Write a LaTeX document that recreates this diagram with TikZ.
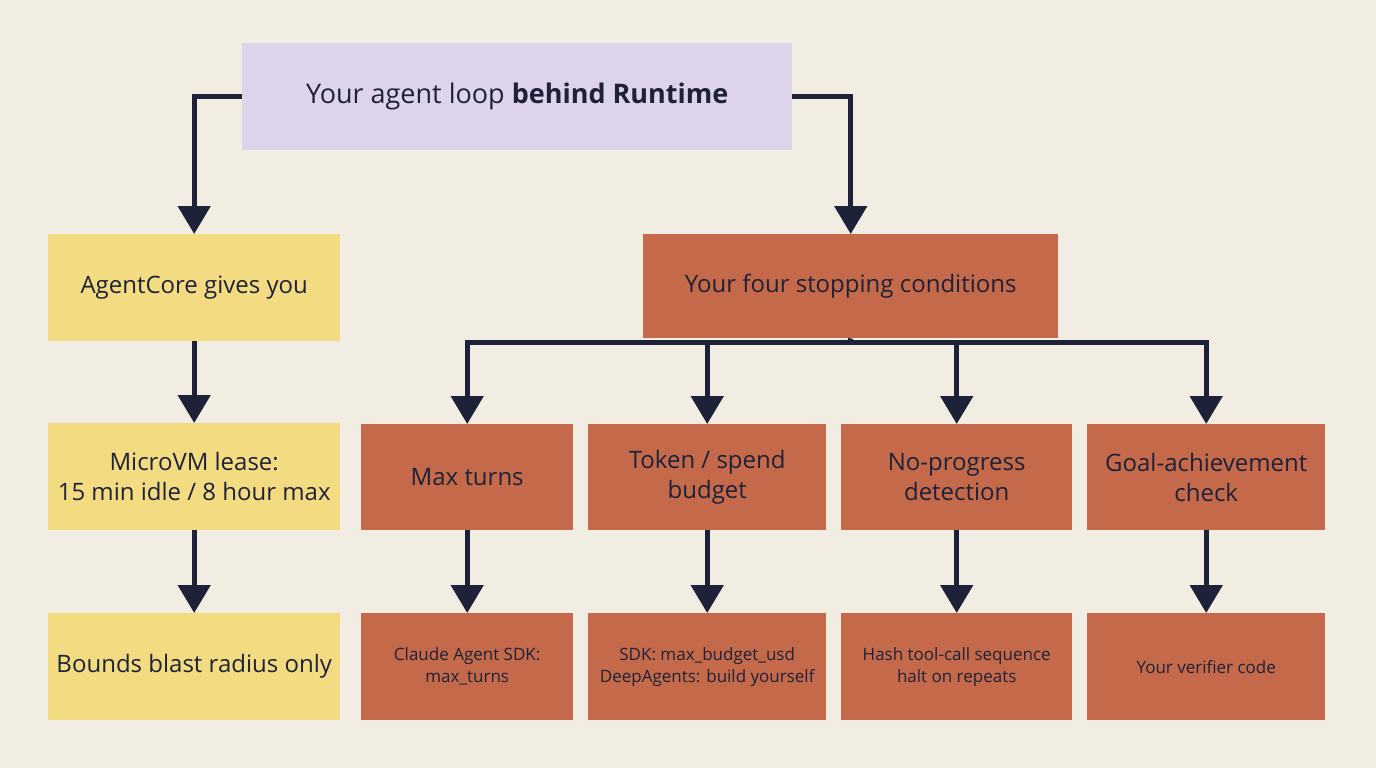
\documentclass[tikz,border=0pt]{standalone}
\usepackage{fontspec}
\setmainfont{Open Sans}
\usetikzlibrary{arrows.meta}
\definecolor{bg}{HTML}{F1EDE2}
\definecolor{pur}{HTML}{DDD3EA}
\definecolor{yel}{HTML}{F3DB82}
\definecolor{ora}{HTML}{C4694A}
\definecolor{ink}{HTML}{1E2238}
\begin{document}
\begin{tikzpicture}[x=1pt,y=-1pt,
  box/.style={draw=none,inner sep=0pt,align=center,text=ink},
  big/.style={font=\fontsize{24}{30}\selectfont},
  small/.style={font=\fontsize{17}{22}\selectfont},
  conn/.style={draw=ink,line width=5pt},
  arr/.style={conn,-{Triangle[length=28pt,width=32pt]}}]
\fill[bg] (0,0) rectangle (1376,768);
\useasboundingbox (0,0) rectangle (1376,768);
\newcommand{\bx}[6]{\node[box,fill=#5,minimum width=#3-#2,minimum height=107,anchor=north west,#6] (#1) at (#2,#4) {};}
% top
\node[box,fill=pur,minimum width=550,minimum height=107,anchor=north west,font=\fontsize{27}{32}\selectfont] (top) at (242,43) {Your agent loop \textbf{behind Runtime}};
\node[box,fill=yel,minimum width=292,minimum height=107,anchor=north west,big] (ac) at (48,234) {AgentCore gives you};
\node[box,fill=yel,minimum width=292,minimum height=107,anchor=north west,big] (mv) at (48,423) {MicroVM lease:\\15 min idle / 8 hour max};
\node[box,fill=yel,minimum width=292,minimum height=107,anchor=north west,big] (bb) at (48,613) {Bounds blast radius only};
\node[box,fill=ora,minimum width=415,minimum height=104,anchor=north west,big] (sc) at (643,234) {Your four stopping conditions};
\node[box,fill=ora,minimum width=212,minimum height=106,anchor=north west,big] (r1) at (361,424) {Max turns};
\node[box,fill=ora,minimum width=238,minimum height=106,anchor=north west,big] (r2) at (588,424) {Token / spend\\budget};
\node[box,fill=ora,minimum width=231,minimum height=106,anchor=north west,big] (r3) at (841,424) {No-progress\\detection};
\node[box,fill=ora,minimum width=238,minimum height=106,anchor=north west,big] (r4) at (1087,424) {Goal-achievement\\check};
\node[box,fill=ora,minimum width=212,minimum height=107,anchor=north west,small] (b1) at (361,613) {Claude Agent SDK:\\max\_turns};
\node[box,fill=ora,minimum width=238,minimum height=107,anchor=north west,small] (b2) at (588,613) {SDK: max\_budget\_usd\\DeepAgents: build yourself};
\node[box,fill=ora,minimum width=231,minimum height=107,anchor=north west,small] (b3) at (841,613) {Hash tool-call sequence\\halt on repeats};
\node[box,fill=ora,minimum width=238,minimum height=107,anchor=north west,small] (b4) at (1087,613) {Your verifier code};
% connectors
\draw[arr] (top.west) -| (ac.north);
\draw[arr] (top.east) -| (sc.north);
\draw[arr] (ac) -- (mv);
\draw[arr] (mv) -- (bb);
\coordinate (bus) at (850,342);
\draw[conn] (sc.south) -- (bus);
\draw[conn,line cap=rect] (r1.north |- bus) -- (r4.north |- bus);
\foreach \r in {r1,r2,r3,r4}{\draw[arr] (\r.north |- bus) -- (\r.north);}
\foreach \a/\b in {r1/b1,r2/b2,r3/b3,r4/b4}{\draw[arr] (\a) -- (\b);}
\end{tikzpicture}
\end{document}
